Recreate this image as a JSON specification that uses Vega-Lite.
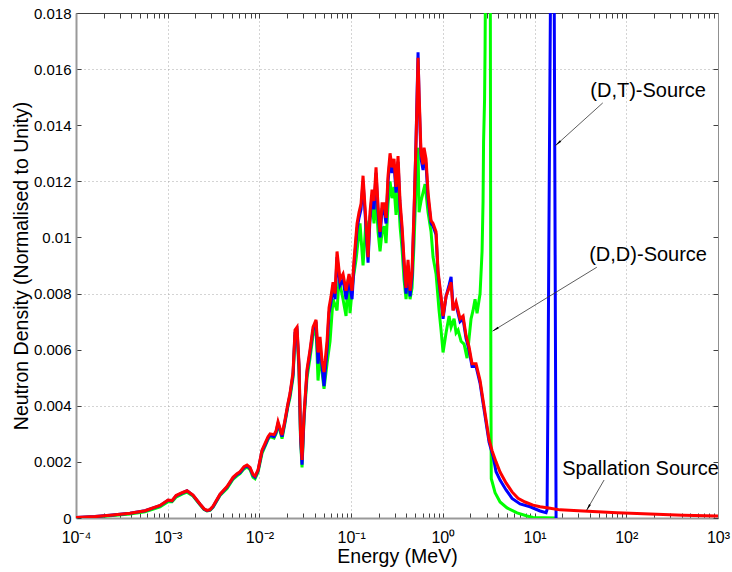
{
  "$schema": "https://vega.github.io/schema/vega-lite/v6.json",
  "width": 642,
  "height": 505,
  "autosize": {"type": "none"},
  "padding": {"left": 76, "top": 13, "right": 14, "bottom": 54},
  "background": "white",
  "config": {
    "font": "Liberation Sans",
    "view": {"stroke": null},
    "axis": {
      "labelFont": "Liberation Sans",
      "labelFontSize": 15,
      "labelColor": "#000000",
      "titleFont": "Liberation Sans",
      "titleFontSize": 19.5,
      "titleFontWeight": "normal",
      "titleColor": "#000000",
      "tickColor": "#404040",
      "tickSize": -5,
      "grid": false
    }
  },
  "datasets": {
    "curves": [
      {"s": "DD", "E": 0.0001, "n": 0.00001}, {"s": "DD", "E": 0.0001612, "n": 0.00004}, {"s": "DD", "E": 0.0002349, "n": 0.00008},
      {"s": "DD", "E": 0.000388, "n": 0.00014}, {"s": "DD", "E": 0.0005655, "n": 0.00022}, {"s": "DD", "E": 0.0008241, "n": 0.0004},
      {"s": "DD", "E": 0.001008, "n": 0.00058}, {"s": "DD", "E": 0.001114, "n": 0.00058}, {"s": "DD", "E": 0.001232, "n": 0.00074},
      {"s": "DD", "E": 0.001432, "n": 0.00085}, {"s": "DD", "E": 0.001623, "n": 0.00092}, {"s": "DD", "E": 0.001887, "n": 0.00078},
      {"s": "DD", "E": 0.00225, "n": 0.00047}, {"s": "DD", "E": 0.002487, "n": 0.0003}, {"s": "DD", "E": 0.002683, "n": 0.00025},
      {"s": "DD", "E": 0.002892, "n": 0.00027}, {"s": "DD", "E": 0.003119, "n": 0.00038}, {"s": "DD", "E": 0.003718, "n": 0.0008},
      {"s": "DD", "E": 0.004433, "n": 0.00105}, {"s": "DD", "E": 0.005154, "n": 0.00138}, {"s": "DD", "E": 0.005697, "n": 0.0015},
      {"s": "DD", "E": 0.006143, "n": 0.00158}, {"s": "DD", "E": 0.006792, "n": 0.00175}, {"s": "DD", "E": 0.007324, "n": 0.00182},
      {"s": "DD", "E": 0.007898, "n": 0.00172}, {"s": "DD", "E": 0.008516, "n": 0.00145}, {"s": "DD", "E": 0.008954, "n": 0.0014},
      {"s": "DD", "E": 0.009654, "n": 0.00163}, {"s": "DD", "E": 0.01067, "n": 0.0023}, {"s": "DD", "E": 0.01151, "n": 0.00255},
      {"s": "DD", "E": 0.01241, "n": 0.0028}, {"s": "DD", "E": 0.01305, "n": 0.0029}, {"s": "DD", "E": 0.01443, "n": 0.00285},
      {"s": "DD", "E": 0.01517, "n": 0.003}, {"s": "DD", "E": 0.01595, "n": 0.0033}, {"s": "DD", "E": 0.01677, "n": 0.0031},
      {"s": "DD", "E": 0.01764, "n": 0.00283}, {"s": "DD", "E": 0.01901, "n": 0.0034}, {"s": "DD", "E": 0.0205, "n": 0.004},
      {"s": "DD", "E": 0.02157, "n": 0.0043}, {"s": "DD", "E": 0.02325, "n": 0.005}, {"s": "DD", "E": 0.02444, "n": 0.0065},
      {"s": "DD", "E": 0.0257, "n": 0.0066}, {"s": "DD", "E": 0.02703, "n": 0.0052}, {"s": "DD", "E": 0.02807, "n": 0.0028},
      {"s": "DD", "E": 0.02914, "n": 0.0018}, {"s": "DD", "E": 0.03064, "n": 0.0035}, {"s": "DD", "E": 0.03304, "n": 0.005},
      {"s": "DD", "E": 0.03562, "n": 0.0057}, {"s": "DD", "E": 0.03841, "n": 0.0065}, {"s": "DD", "E": 0.04142, "n": 0.0068},
      {"s": "DD", "E": 0.04355, "n": 0.0049}, {"s": "DD", "E": 0.04579, "n": 0.0058}, {"s": "DD", "E": 0.04815, "n": 0.0052},
      {"s": "DD", "E": 0.05063, "n": 0.0046}, {"s": "DD", "E": 0.0546, "n": 0.0055}, {"s": "DD", "E": 0.05887, "n": 0.0063},
      {"s": "DD", "E": 0.06347, "n": 0.0078}, {"s": "DD", "E": 0.06674, "n": 0.0076}, {"s": "DD", "E": 0.07018, "n": 0.0074},
      {"s": "DD", "E": 0.07379, "n": 0.0085}, {"s": "DD", "E": 0.08159, "n": 0.0078}, {"s": "DD", "E": 0.08799, "n": 0.0072},
      {"s": "DD", "E": 0.09252, "n": 0.0085}, {"s": "DD", "E": 0.09727, "n": 0.0073}, {"s": "DD", "E": 0.1049, "n": 0.0085},
      {"s": "DD", "E": 0.1131, "n": 0.0092}, {"s": "DD", "E": 0.125, "n": 0.0105}, {"s": "DD", "E": 0.1348, "n": 0.009},
      {"s": "DD", "E": 0.1454, "n": 0.0106}, {"s": "DD", "E": 0.1529, "n": 0.0101}, {"s": "DD", "E": 0.1607, "n": 0.0107},
      {"s": "DD", "E": 0.169, "n": 0.0112}, {"s": "DD", "E": 0.1777, "n": 0.0105}, {"s": "DD", "E": 0.1868, "n": 0.0115},
      {"s": "DD", "E": 0.1965, "n": 0.0102}, {"s": "DD", "E": 0.2066, "n": 0.0095}, {"s": "DD", "E": 0.2172, "n": 0.0102},
      {"s": "DD", "E": 0.2284, "n": 0.0104}, {"s": "DD", "E": 0.2402, "n": 0.0098}, {"s": "DD", "E": 0.2526, "n": 0.0112},
      {"s": "DD", "E": 0.2656, "n": 0.012}, {"s": "DD", "E": 0.2793, "n": 0.0114}, {"s": "DD", "E": 0.2936, "n": 0.0118},
      {"s": "DD", "E": 0.3087, "n": 0.0108}, {"s": "DD", "E": 0.3246, "n": 0.0118}, {"s": "DD", "E": 0.3413, "n": 0.0104},
      {"s": "DD", "E": 0.3589, "n": 0.0096}, {"s": "DD", "E": 0.3774, "n": 0.0085}, {"s": "DD", "E": 0.3968, "n": 0.0078},
      {"s": "DD", "E": 0.4173, "n": 0.0086}, {"s": "DD", "E": 0.4388, "n": 0.0078}, {"s": "DD", "E": 0.4613, "n": 0.0082},
      {"s": "DD", "E": 0.4851, "n": 0.0098}, {"s": "DD", "E": 0.5101, "n": 0.0118}, {"s": "DD", "E": 0.5364, "n": 0.0132},
      {"s": "DD", "E": 0.55, "n": 0.0109}, {"s": "DD", "E": 0.5783, "n": 0.0113}, {"s": "DD", "E": 0.6081, "n": 0.0116},
      {"s": "DD", "E": 0.6394, "n": 0.0119}, {"s": "DD", "E": 0.6895, "n": 0.0109}, {"s": "DD", "E": 0.7437, "n": 0.0102},
      {"s": "DD", "E": 0.7819, "n": 0.0093}, {"s": "DD", "E": 0.8431, "n": 0.0087}, {"s": "DD", "E": 0.9089, "n": 0.0074},
      {"s": "DD", "E": 0.9557, "n": 0.0067}, {"s": "DD", "E": 1.005, "n": 0.0059}, {"s": "DD", "E": 1.084, "n": 0.0066},
      {"s": "DD", "E": 1.169, "n": 0.0072}, {"s": "DD", "E": 1.229, "n": 0.0068}, {"s": "DD", "E": 1.325, "n": 0.0071},
      {"s": "DD", "E": 1.393, "n": 0.0066}, {"s": "DD", "E": 1.465, "n": 0.0067}, {"s": "DD", "E": 1.579, "n": 0.0063},
      {"s": "DD", "E": 1.703, "n": 0.0062}, {"s": "DD", "E": 1.836, "n": 0.0057}, {"s": "DD", "E": 1.93, "n": 0.0064},
      {"s": "DD", "E": 2.03, "n": 0.0071}, {"s": "DD", "E": 2.134, "n": 0.0074}, {"s": "DD", "E": 2.244, "n": 0.0078},
      {"s": "DD", "E": 2.36, "n": 0.0073}, {"s": "DD", "E": 2.545, "n": 0.008}, {"s": "DD", "E": 2.676, "n": 0.0095},
      {"s": "DD", "E": 2.744, "n": 0.0113}, {"s": "DD", "E": 2.779, "n": 0.0134}, {"s": "DD", "E": 2.849, "n": 0.0149},
      {"s": "DD", "E": 2.885, "n": 0.0167}, {"s": "DD", "E": 2.981, "n": 0.024}, {"s": "DD", "E": 3.072, "n": 0.04},
      {"s": "DD", "E": 3.23, "n": 0.04}, {"s": "DD", "E": 3.288, "n": 0.02}, {"s": "DD", "E": 3.338, "n": 0.005},
      {"s": "DD", "E": 3.372, "n": 0.0014}, {"s": "DD", "E": 3.44, "n": 0.0013}, {"s": "DD", "E": 3.709, "n": 0.0009},
      {"s": "DD", "E": 4.205, "n": 0.00057}, {"s": "DD", "E": 5.013, "n": 0.00036}, {"s": "DD", "E": 6.444, "n": 0.00018},
      {"s": "DD", "E": 8.283, "n": 0.00007}, {"s": "DD", "E": 9.63, "n": 0.00002}, {"s": "DD", "E": 17.16, "n": 0},

      {"s": "DT", "E": 0.0001, "n": 0.00002}, {"s": "DT", "E": 0.0001612, "n": 0.00005}, {"s": "DT", "E": 0.0002349, "n": 0.0001},
      {"s": "DT", "E": 0.000388, "n": 0.00017}, {"s": "DT", "E": 0.0005655, "n": 0.00026}, {"s": "DT", "E": 0.0008241, "n": 0.00044},
      {"s": "DT", "E": 0.001008, "n": 0.00063}, {"s": "DT", "E": 0.001114, "n": 0.00061}, {"s": "DT", "E": 0.001232, "n": 0.00079},
      {"s": "DT", "E": 0.001432, "n": 0.00089}, {"s": "DT", "E": 0.001623, "n": 0.00097}, {"s": "DT", "E": 0.001887, "n": 0.00081},
      {"s": "DT", "E": 0.00225, "n": 0.00049}, {"s": "DT", "E": 0.002487, "n": 0.00032}, {"s": "DT", "E": 0.002683, "n": 0.00026},
      {"s": "DT", "E": 0.002892, "n": 0.00029}, {"s": "DT", "E": 0.003119, "n": 0.0004}, {"s": "DT", "E": 0.003718, "n": 0.00083},
      {"s": "DT", "E": 0.004433, "n": 0.0011}, {"s": "DT", "E": 0.005154, "n": 0.00142}, {"s": "DT", "E": 0.005697, "n": 0.00155},
      {"s": "DT", "E": 0.006143, "n": 0.00162}, {"s": "DT", "E": 0.006792, "n": 0.0018}, {"s": "DT", "E": 0.007324, "n": 0.00186},
      {"s": "DT", "E": 0.007898, "n": 0.00177}, {"s": "DT", "E": 0.008516, "n": 0.00152}, {"s": "DT", "E": 0.008954, "n": 0.00146},
      {"s": "DT", "E": 0.009654, "n": 0.00168}, {"s": "DT", "E": 0.01067, "n": 0.00238}, {"s": "DT", "E": 0.01151, "n": 0.0026},
      {"s": "DT", "E": 0.01241, "n": 0.00285}, {"s": "DT", "E": 0.01305, "n": 0.00295}, {"s": "DT", "E": 0.01443, "n": 0.0029},
      {"s": "DT", "E": 0.01517, "n": 0.00305}, {"s": "DT", "E": 0.01595, "n": 0.00337}, {"s": "DT", "E": 0.01677, "n": 0.00315},
      {"s": "DT", "E": 0.01764, "n": 0.0029}, {"s": "DT", "E": 0.01901, "n": 0.00345}, {"s": "DT", "E": 0.0205, "n": 0.00405},
      {"s": "DT", "E": 0.02157, "n": 0.0044}, {"s": "DT", "E": 0.02325, "n": 0.0051}, {"s": "DT", "E": 0.02444, "n": 0.0066},
      {"s": "DT", "E": 0.0257, "n": 0.0067}, {"s": "DT", "E": 0.02703, "n": 0.0054}, {"s": "DT", "E": 0.02807, "n": 0.0029},
      {"s": "DT", "E": 0.02914, "n": 0.0019}, {"s": "DT", "E": 0.03064, "n": 0.0036}, {"s": "DT", "E": 0.03304, "n": 0.0052},
      {"s": "DT", "E": 0.03562, "n": 0.0059}, {"s": "DT", "E": 0.03841, "n": 0.0067}, {"s": "DT", "E": 0.04142, "n": 0.007},
      {"s": "DT", "E": 0.04355, "n": 0.0055}, {"s": "DT", "E": 0.04579, "n": 0.0062}, {"s": "DT", "E": 0.04815, "n": 0.0054},
      {"s": "DT", "E": 0.05063, "n": 0.0047}, {"s": "DT", "E": 0.0546, "n": 0.006}, {"s": "DT", "E": 0.05741, "n": 0.0073},
      {"s": "DT", "E": 0.06036, "n": 0.0077}, {"s": "DT", "E": 0.06347, "n": 0.0083}, {"s": "DT", "E": 0.06674, "n": 0.0078},
      {"s": "DT", "E": 0.07018, "n": 0.0093}, {"s": "DT", "E": 0.07567, "n": 0.0083}, {"s": "DT", "E": 0.08159, "n": 0.0085},
      {"s": "DT", "E": 0.08799, "n": 0.0078}, {"s": "DT", "E": 0.09487, "n": 0.0085}, {"s": "DT", "E": 0.1023, "n": 0.0078},
      {"s": "DT", "E": 0.1075, "n": 0.009}, {"s": "DT", "E": 0.116, "n": 0.0103}, {"s": "DT", "E": 0.1219, "n": 0.0107},
      {"s": "DT", "E": 0.1282, "n": 0.011}, {"s": "DT", "E": 0.1348, "n": 0.012}, {"s": "DT", "E": 0.1454, "n": 0.0103},
      {"s": "DT", "E": 0.1529, "n": 0.0091}, {"s": "DT", "E": 0.1607, "n": 0.0107}, {"s": "DT", "E": 0.169, "n": 0.0115},
      {"s": "DT", "E": 0.1777, "n": 0.011}, {"s": "DT", "E": 0.1868, "n": 0.0123}, {"s": "DT", "E": 0.1965, "n": 0.0109},
      {"s": "DT", "E": 0.2066, "n": 0.01}, {"s": "DT", "E": 0.2172, "n": 0.011}, {"s": "DT", "E": 0.2284, "n": 0.011},
      {"s": "DT", "E": 0.2402, "n": 0.0105}, {"s": "DT", "E": 0.2526, "n": 0.012}, {"s": "DT", "E": 0.2656, "n": 0.0128},
      {"s": "DT", "E": 0.2793, "n": 0.0123}, {"s": "DT", "E": 0.2936, "n": 0.0126}, {"s": "DT", "E": 0.3087, "n": 0.0116},
      {"s": "DT", "E": 0.3246, "n": 0.0127}, {"s": "DT", "E": 0.3413, "n": 0.0111}, {"s": "DT", "E": 0.3589, "n": 0.0102},
      {"s": "DT", "E": 0.3774, "n": 0.009}, {"s": "DT", "E": 0.3968, "n": 0.008}, {"s": "DT", "E": 0.4173, "n": 0.009},
      {"s": "DT", "E": 0.4388, "n": 0.0079}, {"s": "DT", "E": 0.4613, "n": 0.0086}, {"s": "DT", "E": 0.4851, "n": 0.0108},
      {"s": "DT", "E": 0.5101, "n": 0.0135}, {"s": "DT", "E": 0.5364, "n": 0.0166}, {"s": "DT", "E": 0.55, "n": 0.015},
      {"s": "DT", "E": 0.5783, "n": 0.0128}, {"s": "DT", "E": 0.6081, "n": 0.0124}, {"s": "DT", "E": 0.6235, "n": 0.013},
      {"s": "DT", "E": 0.6558, "n": 0.0126}, {"s": "DT", "E": 0.6895, "n": 0.0114}, {"s": "DT", "E": 0.7437, "n": 0.0105},
      {"s": "DT", "E": 0.7819, "n": 0.0104}, {"s": "DT", "E": 0.8431, "n": 0.0101}, {"s": "DT", "E": 0.8863, "n": 0.0087},
      {"s": "DT", "E": 0.9557, "n": 0.0078}, {"s": "DT", "E": 1.005, "n": 0.0071}, {"s": "DT", "E": 1.084, "n": 0.0079},
      {"s": "DT", "E": 1.169, "n": 0.0083}, {"s": "DT", "E": 1.229, "n": 0.0086}, {"s": "DT", "E": 1.292, "n": 0.0075},
      {"s": "DT", "E": 1.393, "n": 0.0076}, {"s": "DT", "E": 1.465, "n": 0.0073}, {"s": "DT", "E": 1.54, "n": 0.007},
      {"s": "DT", "E": 1.661, "n": 0.0071}, {"s": "DT", "E": 1.79, "n": 0.0064}, {"s": "DT", "E": 1.93, "n": 0.006},
      {"s": "DT", "E": 2.081, "n": 0.0054}, {"s": "DT", "E": 2.301, "n": 0.0054}, {"s": "DT", "E": 2.545, "n": 0.0048},
      {"s": "DT", "E": 2.744, "n": 0.0041}, {"s": "DT", "E": 2.959, "n": 0.0034}, {"s": "DT", "E": 3.19, "n": 0.0027},
      {"s": "DT", "E": 3.527, "n": 0.0022}, {"s": "DT", "E": 3.803, "n": 0.00165}, {"s": "DT", "E": 4.205, "n": 0.00135},
      {"s": "DT", "E": 4.889, "n": 0.001}, {"s": "DT", "E": 5.684, "n": 0.0007}, {"s": "DT", "E": 6.947, "n": 0.0005},
      {"s": "DT", "E": 8.931, "n": 0.0004}, {"s": "DT", "E": 11.48, "n": 0.00025}, {"s": "DT", "E": 13.35, "n": 0.00019},
      {"s": "DT", "E": 13.69, "n": 0.0003}, {"s": "DT", "E": 13.96, "n": 0.004}, {"s": "DT", "E": 14.39, "n": 0.011},
      {"s": "DT", "E": 14.87, "n": 0.018}, {"s": "DT", "E": 15.32, "n": 0.03}, {"s": "DT", "E": 16.11, "n": 0.03},
      {"s": "DT", "E": 16.4, "n": 0.018}, {"s": "DT", "E": 16.82, "n": 0.008}, {"s": "DT", "E": 17.16, "n": 0},

      {"s": "SP", "E": 0.0001, "n": 0.00002}, {"s": "SP", "E": 0.0001612, "n": 0.00005}, {"s": "SP", "E": 0.0002349, "n": 0.0001},
      {"s": "SP", "E": 0.000388, "n": 0.00017}, {"s": "SP", "E": 0.0005655, "n": 0.00026}, {"s": "SP", "E": 0.0008241, "n": 0.00045},
      {"s": "SP", "E": 0.001008, "n": 0.00064}, {"s": "SP", "E": 0.001114, "n": 0.00062}, {"s": "SP", "E": 0.001232, "n": 0.0008},
      {"s": "SP", "E": 0.001432, "n": 0.0009}, {"s": "SP", "E": 0.001623, "n": 0.00097}, {"s": "SP", "E": 0.001887, "n": 0.00082},
      {"s": "SP", "E": 0.00225, "n": 0.0005}, {"s": "SP", "E": 0.002487, "n": 0.00033}, {"s": "SP", "E": 0.002683, "n": 0.00027},
      {"s": "SP", "E": 0.002892, "n": 0.0003}, {"s": "SP", "E": 0.003119, "n": 0.00042}, {"s": "SP", "E": 0.003718, "n": 0.00085},
      {"s": "SP", "E": 0.004433, "n": 0.00112}, {"s": "SP", "E": 0.005154, "n": 0.00145}, {"s": "SP", "E": 0.005697, "n": 0.00158},
      {"s": "SP", "E": 0.006143, "n": 0.00165}, {"s": "SP", "E": 0.006792, "n": 0.00183}, {"s": "SP", "E": 0.007324, "n": 0.00189},
      {"s": "SP", "E": 0.007898, "n": 0.0018}, {"s": "SP", "E": 0.008516, "n": 0.00155}, {"s": "SP", "E": 0.008954, "n": 0.0015},
      {"s": "SP", "E": 0.009654, "n": 0.00171}, {"s": "SP", "E": 0.01067, "n": 0.00242}, {"s": "SP", "E": 0.01151, "n": 0.00266},
      {"s": "SP", "E": 0.01241, "n": 0.0029}, {"s": "SP", "E": 0.01305, "n": 0.003}, {"s": "SP", "E": 0.01443, "n": 0.00297},
      {"s": "SP", "E": 0.01517, "n": 0.0031}, {"s": "SP", "E": 0.01595, "n": 0.00343}, {"s": "SP", "E": 0.01677, "n": 0.0032},
      {"s": "SP", "E": 0.01764, "n": 0.00296}, {"s": "SP", "E": 0.01901, "n": 0.0035}, {"s": "SP", "E": 0.0205, "n": 0.0041},
      {"s": "SP", "E": 0.02157, "n": 0.00445}, {"s": "SP", "E": 0.02325, "n": 0.0052}, {"s": "SP", "E": 0.02444, "n": 0.0067},
      {"s": "SP", "E": 0.0257, "n": 0.0068}, {"s": "SP", "E": 0.02703, "n": 0.0055}, {"s": "SP", "E": 0.02807, "n": 0.003},
      {"s": "SP", "E": 0.02914, "n": 0.00207}, {"s": "SP", "E": 0.03064, "n": 0.0037}, {"s": "SP", "E": 0.03304, "n": 0.0053},
      {"s": "SP", "E": 0.03562, "n": 0.006}, {"s": "SP", "E": 0.03841, "n": 0.0068}, {"s": "SP", "E": 0.04142, "n": 0.00706},
      {"s": "SP", "E": 0.04355, "n": 0.0059}, {"s": "SP", "E": 0.04579, "n": 0.00646}, {"s": "SP", "E": 0.04815, "n": 0.0056},
      {"s": "SP", "E": 0.05063, "n": 0.0052}, {"s": "SP", "E": 0.0546, "n": 0.0063}, {"s": "SP", "E": 0.05741, "n": 0.0075},
      {"s": "SP", "E": 0.06036, "n": 0.0079}, {"s": "SP", "E": 0.06347, "n": 0.0084}, {"s": "SP", "E": 0.06674, "n": 0.008},
      {"s": "SP", "E": 0.07018, "n": 0.0095}, {"s": "SP", "E": 0.07567, "n": 0.0085}, {"s": "SP", "E": 0.08159, "n": 0.0087},
      {"s": "SP", "E": 0.08799, "n": 0.0081}, {"s": "SP", "E": 0.09487, "n": 0.0087}, {"s": "SP", "E": 0.1023, "n": 0.0081},
      {"s": "SP", "E": 0.1075, "n": 0.0092}, {"s": "SP", "E": 0.116, "n": 0.0105}, {"s": "SP", "E": 0.1219, "n": 0.0109},
      {"s": "SP", "E": 0.1282, "n": 0.0112}, {"s": "SP", "E": 0.1348, "n": 0.0122}, {"s": "SP", "E": 0.1454, "n": 0.0105},
      {"s": "SP", "E": 0.1529, "n": 0.0093}, {"s": "SP", "E": 0.1607, "n": 0.0109}, {"s": "SP", "E": 0.169, "n": 0.0117},
      {"s": "SP", "E": 0.1777, "n": 0.0113}, {"s": "SP", "E": 0.1868, "n": 0.0125}, {"s": "SP", "E": 0.1965, "n": 0.0111},
      {"s": "SP", "E": 0.2066, "n": 0.0102}, {"s": "SP", "E": 0.2172, "n": 0.0112}, {"s": "SP", "E": 0.2284, "n": 0.0112},
      {"s": "SP", "E": 0.2402, "n": 0.0107}, {"s": "SP", "E": 0.2526, "n": 0.0122}, {"s": "SP", "E": 0.2656, "n": 0.013},
      {"s": "SP", "E": 0.2793, "n": 0.0125}, {"s": "SP", "E": 0.2936, "n": 0.0128}, {"s": "SP", "E": 0.3087, "n": 0.0118},
      {"s": "SP", "E": 0.3246, "n": 0.0129}, {"s": "SP", "E": 0.3413, "n": 0.0113}, {"s": "SP", "E": 0.3589, "n": 0.0104},
      {"s": "SP", "E": 0.3774, "n": 0.0092}, {"s": "SP", "E": 0.3968, "n": 0.0082}, {"s": "SP", "E": 0.4173, "n": 0.0092},
      {"s": "SP", "E": 0.4388, "n": 0.0081}, {"s": "SP", "E": 0.4613, "n": 0.0088}, {"s": "SP", "E": 0.4851, "n": 0.011},
      {"s": "SP", "E": 0.5101, "n": 0.0134}, {"s": "SP", "E": 0.5364, "n": 0.0164}, {"s": "SP", "E": 0.55, "n": 0.0152},
      {"s": "SP", "E": 0.5783, "n": 0.013}, {"s": "SP", "E": 0.6081, "n": 0.0126}, {"s": "SP", "E": 0.6235, "n": 0.0132},
      {"s": "SP", "E": 0.6558, "n": 0.0128}, {"s": "SP", "E": 0.6895, "n": 0.0116}, {"s": "SP", "E": 0.7437, "n": 0.0106},
      {"s": "SP", "E": 0.7819, "n": 0.0105}, {"s": "SP", "E": 0.8431, "n": 0.0102}, {"s": "SP", "E": 0.8863, "n": 0.0088},
      {"s": "SP", "E": 0.9557, "n": 0.0079}, {"s": "SP", "E": 1.005, "n": 0.0072}, {"s": "SP", "E": 1.084, "n": 0.0079},
      {"s": "SP", "E": 1.169, "n": 0.0082}, {"s": "SP", "E": 1.229, "n": 0.0084}, {"s": "SP", "E": 1.292, "n": 0.0074},
      {"s": "SP", "E": 1.393, "n": 0.0077}, {"s": "SP", "E": 1.465, "n": 0.0074}, {"s": "SP", "E": 1.54, "n": 0.0071},
      {"s": "SP", "E": 1.661, "n": 0.0072}, {"s": "SP", "E": 1.79, "n": 0.0065}, {"s": "SP", "E": 1.93, "n": 0.0061},
      {"s": "SP", "E": 2.081, "n": 0.0055}, {"s": "SP", "E": 2.301, "n": 0.0055}, {"s": "SP", "E": 2.545, "n": 0.0049},
      {"s": "SP", "E": 2.744, "n": 0.0042}, {"s": "SP", "E": 2.959, "n": 0.0035}, {"s": "SP", "E": 3.19, "n": 0.0028},
      {"s": "SP", "E": 3.44, "n": 0.0024}, {"s": "SP", "E": 3.803, "n": 0.002}, {"s": "SP", "E": 4.205, "n": 0.00164},
      {"s": "SP", "E": 4.889, "n": 0.00125}, {"s": "SP", "E": 5.684, "n": 0.00093}, {"s": "SP", "E": 6.607, "n": 0.0007},
      {"s": "SP", "E": 7.877, "n": 0.00057}, {"s": "SP", "E": 9.63, "n": 0.00046}, {"s": "SP", "E": 11.48, "n": 0.0004},
      {"s": "SP", "E": 14.76, "n": 0.00035}, {"s": "SP", "E": 18.97, "n": 0.00029}, {"s": "SP", "E": 33.79, "n": 0.00025},
      {"s": "SP", "E": 79.35, "n": 0.00019}, {"s": "SP", "E": 181.7, "n": 0.00014}, {"s": "SP", "E": 416.3, "n": 0.0001},
      {"s": "SP", "E": 1000, "n": 0.00007}
    ],
    "notes": [
      {"label": "(D,T)-Source", "tx": 172.9, "ty": 0.01522, "x1": 55.4, "y1": 0.014795, "x2": 16.73, "y2": 0.01326, "hx": 18.36, "hy": 0.013381},
      {"label": "(D,D)-Source", "tx": 172.9, "ty": 0.009376, "x1": 47.7, "y1": 0.008938, "x2": 3.501, "y2": 0.006667, "hx": 3.813, "hy": 0.006741},
      {"label": "Spallation Source", "tx": 143.2, "ty": 0.001747, "x1": 57.3, "y1": 0.001355, "x2": 37.1, "y2": 0.000285, "hx": 38.99, "hy": 0.00041}
    ]
  },
  "resolve": {"axis": {"x": "independent", "y": "independent"}},
  "layer": [
    {
      "data": {"name": "curves"},
      "transform": [{"filter": "datum.s == 'DD'"}],
      "mark": {"type": "line", "color": "#00ff00", "strokeWidth": 3, "clip": true},
      "encoding": {
        "x": {
          "field": "E", "type": "quantitative",
          "scale": {"type": "log", "domain": [0.0001, 1000], "nice": false},
          "axis": {
            "orient": "bottom", "title": "Energy (MeV)", "titlePadding": 2,
            "values": [0.0001,0.0002,0.0003,0.0004,0.0005,0.0006,0.0007,0.0008,0.0009,0.001,0.002,0.003,0.004,0.005,0.006,0.007,0.008,0.009,0.01,0.02,0.03,0.04,0.05,0.06,0.07,0.08,0.09,0.1,0.2,0.3,0.4,0.5,0.6,0.7,0.8,0.9,1,2,3,4,5,6,7,8,9,10,20,30,40,50,60,70,80,90,100,200,300,400,500,600,700,800,900,1000],
            "labelExpr": "abs(log(datum.value)/LN10 - round(log(datum.value)/LN10)) < 0.01 ? ['10⁻⁴','10⁻³','10⁻²','10⁻¹','10⁰','10¹','10²','10³'][round(log(datum.value)/LN10) + 4] : ''",
            "labelPadding": 16, "labelFontSize": 16, "labelFlush": false, "labelOverlap": false,
            "grid": true, "gridColor": "#a8a8a8", "gridDash": [1, 3], "gridWidth": 1,
            "gridOpacity": {"condition": {"test": "abs(log(datum.value)/LN10 - round(log(datum.value)/LN10)) < 0.01 && datum.value > 0.0005 && datum.value < 500", "value": 1}, "value": 0},
            "domainColor": "#999999", "domainWidth": 2
          }
        },
        "y": {
          "field": "n", "type": "quantitative",
          "scale": {"domain": [0, 0.018], "nice": false},
          "axis": {
            "orient": "left", "title": "Neutron Density (Normalised to Unity)", "titlePadding": 2,
            "values": [0, 0.002, 0.004, 0.006, 0.008, 0.01, 0.012, 0.014, 0.016, 0.018],
            "labelExpr": "datum.value == 0 ? '0' : format(datum.value, '.3~f')",
            "labelPadding": 10, "labelFlush": false,
            "grid": true, "gridColor": "#a8a8a8", "gridDash": [1, 3], "gridWidth": 1,
            "gridOpacity": {"condition": {"test": "datum.value > 0.001 && datum.value < 0.017 && abs(datum.value / 0.004 - round(datum.value / 0.004)) < 0.01", "value": 1}, "value": 0},
            "domainColor": "#999999", "domainWidth": 2
          }
        }
      }
    },
    {
      "data": {"name": "curves"},
      "transform": [{"filter": "datum.s == 'DT'"}],
      "mark": {"type": "line", "color": "#0000ff", "strokeWidth": 3, "clip": true},
      "encoding": {
        "x": {
          "field": "E", "type": "quantitative",
          "scale": {"type": "log", "domain": [0.0001, 1000], "nice": false},
          "axis": {
            "orient": "top", "title": null, "labels": false, "grid": false,
            "values": [0.0001,0.0002,0.0003,0.0004,0.0005,0.0006,0.0007,0.0008,0.0009,0.001,0.002,0.003,0.004,0.005,0.006,0.007,0.008,0.009,0.01,0.02,0.03,0.04,0.05,0.06,0.07,0.08,0.09,0.1,0.2,0.3,0.4,0.5,0.6,0.7,0.8,0.9,1,2,3,4,5,6,7,8,9,10,20,30,40,50,60,70,80,90,100,200,300,400,500,600,700,800,900,1000],
            "domainColor": "#404040", "domainWidth": 1
          }
        },
        "y": {"field": "n", "type": "quantitative", "scale": {"domain": [0, 0.018], "nice": false}, "axis": null}
      }
    },
    {
      "data": {"name": "curves"},
      "transform": [{"filter": "datum.s == 'SP'"}],
      "mark": {"type": "line", "color": "#ff0000", "strokeWidth": 3, "clip": true},
      "encoding": {
        "x": {"field": "E", "type": "quantitative", "scale": {"type": "log", "domain": [0.0001, 1000], "nice": false}, "axis": null},
        "y": {
          "field": "n", "type": "quantitative",
          "scale": {"domain": [0, 0.018], "nice": false},
          "axis": {
            "orient": "right", "title": null, "labels": false, "grid": false,
            "values": [0, 0.002, 0.004, 0.006, 0.008, 0.01, 0.012, 0.014, 0.016, 0.018],
            "domainColor": "#909090", "domainWidth": 1
          }
        }
      }
    },
    {
      "data": {"name": "notes"},
      "mark": {"type": "rule", "color": "#333333", "strokeWidth": 0.8},
      "encoding": {
        "x": {"field": "x1", "type": "quantitative", "scale": {"type": "log", "domain": [0.0001, 1000], "nice": false}, "axis": null},
        "y": {"field": "y1", "type": "quantitative", "scale": {"domain": [0, 0.018], "nice": false}, "axis": null},
        "x2": {"field": "x2"},
        "y2": {"field": "y2"}
      }
    },
    {
      "data": {"name": "notes"},
      "transform": [{"filter": "datum.label == '(D,T)-Source'"}],
      "mark": {"type": "point", "shape": "wedge", "filled": true, "color": "#000000", "size": 70, "angle": 228, "opacity": 1},
      "encoding": {
        "x": {"field": "hx", "type": "quantitative", "scale": {"type": "log", "domain": [0.0001, 1000], "nice": false}, "axis": null},
        "y": {"field": "hy", "type": "quantitative", "scale": {"domain": [0, 0.018], "nice": false}, "axis": null}
      }
    },
    {
      "data": {"name": "notes"},
      "transform": [{"filter": "datum.label == '(D,D)-Source'"}],
      "mark": {"type": "point", "shape": "wedge", "filled": true, "color": "#000000", "size": 70, "angle": 238.5, "opacity": 1},
      "encoding": {
        "x": {"field": "hx", "type": "quantitative", "scale": {"type": "log", "domain": [0.0001, 1000], "nice": false}, "axis": null},
        "y": {"field": "hy", "type": "quantitative", "scale": {"domain": [0, 0.018], "nice": false}, "axis": null}
      }
    },
    {
      "data": {"name": "notes"},
      "transform": [{"filter": "datum.label == 'Spallation Source'"}],
      "mark": {"type": "point", "shape": "wedge", "filled": true, "color": "#000000", "size": 70, "angle": 210, "opacity": 1},
      "encoding": {
        "x": {"field": "hx", "type": "quantitative", "scale": {"type": "log", "domain": [0.0001, 1000], "nice": false}, "axis": null},
        "y": {"field": "hy", "type": "quantitative", "scale": {"domain": [0, 0.018], "nice": false}, "axis": null}
      }
    },
    {
      "data": {"name": "notes"},
      "mark": {"type": "text", "font": "Liberation Sans", "fontSize": 20, "color": "#000000", "align": "center", "baseline": "middle"},
      "encoding": {
        "x": {"field": "tx", "type": "quantitative", "scale": {"type": "log", "domain": [0.0001, 1000], "nice": false}, "axis": null},
        "y": {"field": "ty", "type": "quantitative", "scale": {"domain": [0, 0.018], "nice": false}, "axis": null},
        "text": {"field": "label"}
      }
    }
  ]
}
